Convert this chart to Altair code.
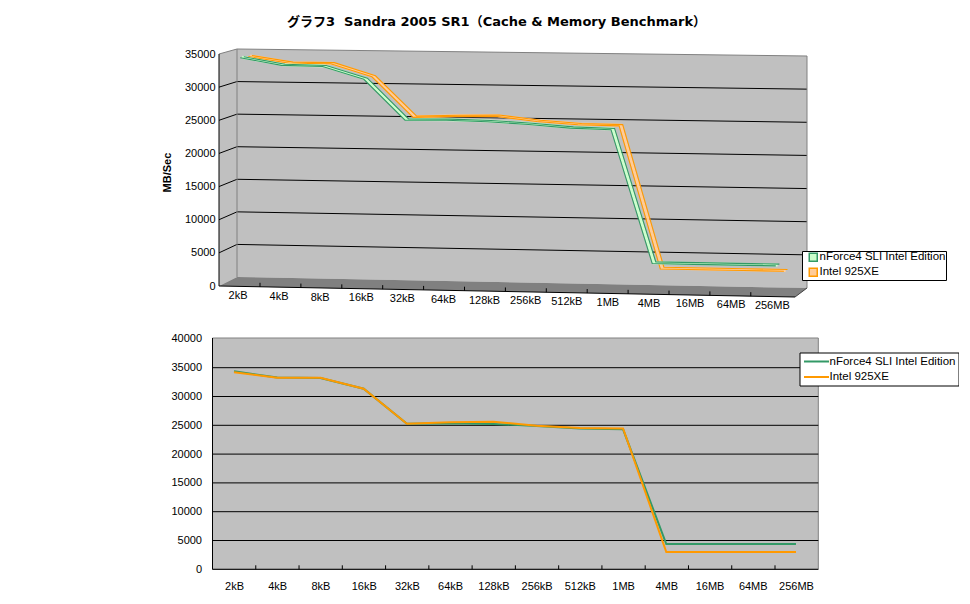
import altair as alt
import pandas as pd

categories = ["2kB","4kB","8kB","16kB","32kB","64kB","128kB","256kB","512kB","1MB","4MB","16MB","64MB","256MB"]
nforce = [34370,33300,33200,31350,25280,25350,25230,24900,24450,24300,4390,4390,4390,4390]
intel = [34200,33260,33260,31350,25280,25520,25630,24930,24530,24450,3000,3000,3000,3000]
names = ["nForce4 SLI Intel Edition", "Intel 925XE"]
y_ticks_top = [0,5000,10000,15000,20000,25000,30000,35000]
y_ticks_bottom = [0,5000,10000,15000,20000,25000,30000,35000,40000]
title_text = "グラフ3\u00a0\u00a0Sandra 2005 SR1（Cache & Memory Benchmark）"

DARK = ["#339966", "#ff9900"]
LIGHT = ["#ccffcc", "#ffcc99"]
WALL, FLOOR, EDGE = "#c0c0c0", "#808080", "#808080"
FONT = "Liberation Sans"

W = 950
X0 = 8
TOP1, BOT1 = 36, 318      # top panel extents on page
TOP2, BOT2 = 326, 569.3   # bottom panel extents on page

K0 = 232 / 35000
def to_v(py):
    return (285 - py) / K0

def proj_x(i, d):
    return 237.5 + 41.2 * i + 18 * d

def proj_y(x, v, d):
    base = 285 - 9 * d + 0.0193 * (x - 219 - 18 * d)
    k = (228 + (x - 237) * 4 / 570 + (1 - d) * 4) / 35000
    return base - v * k

xs = alt.Scale(domain=[X0, X0 + W], nice=False, zero=False)
ys1 = alt.Scale(domain=[to_v(BOT1), to_v(TOP1)], nice=False, zero=False)
X1 = alt.X("x:Q", scale=xs, axis=None)
X2E = alt.X2("x2:Q")
axis_top = alt.Axis(values=y_ticks_top, offset=-(219 - X0), domain=False, grid=False,
                    ticks=False, labelFont=FONT, labelFontSize=11,
                    labelColor="black", format="d", labelPadding=4,
                    titleFont=FONT, titleFontSize=11, titleFontWeight="bold", titleColor="black",
                    titleX=-47, titleY=171 - TOP1)
Y1 = alt.Y("y:Q", scale=ys1, title="MB/Sec", axis=axis_top)


def frame(**cols):
    return pd.DataFrame(cols)

# ---------- top panel ----------
back_x = [237, 807]
wall_back = frame(x=back_x,
                  y=[to_v(proj_y(a, 35000, 1)) for a in back_x],
                  y2=[to_v(proj_y(a, 0, 1)) for a in back_x])
wall_left = frame(x=[219, 237], y=[to_v(53), to_v(48)], y2=[to_v(285), to_v(276)])
floor = frame(x=[219, 237, 795, 807],
              y=[to_v(285), to_v(276), to_v(286.8), to_v(287)],
              y2=[to_v(285), to_v(285.3), to_v(296), to_v(287)])


def area(df, color):
    return alt.Chart(df).mark_area(color=color, opacity=1, line=False, interpolate="linear").encode(
        x=X1, y=Y1, y2=alt.Y2("y2:Q"))

layers = [area(wall_left, WALL), area(wall_back, WALL), area(floor, FLOOR)]

grid_rows = []
for v in y_ticks_top[1:-1]:
    grid_rows += [dict(v=v, x=219, y=to_v(285 - v * K0)),
                  dict(v=v, x=237, y=to_v(proj_y(237, v, 1))),
                  dict(v=v, x=807, y=to_v(proj_y(807, v, 1)))]
layers.append(alt.Chart(pd.DataFrame(grid_rows)).mark_line(color="black", strokeWidth=1).encode(
    x=X1, y=Y1, detail="v:N"))

top_edge = frame(x=[219, 237, 807], y=[to_v(53), to_v(48), to_v(proj_y(807, 35000, 1))])
layers.append(alt.Chart(top_edge).mark_line(color=EDGE, strokeWidth=1).encode(x=X1, y=Y1))
edges = frame(x=[237, 807], y=[to_v(48), to_v(proj_y(807, 35000, 1))], y2=[to_v(276), to_v(287)])
layers.append(alt.Chart(edges).mark_rule(color=EDGE, strokeWidth=1).encode(x=X1, y=Y1, y2=alt.Y2("y2:Q")))

front = frame(x=[219, 795], y=[to_v(285), to_v(296)])
layers.append(alt.Chart(front).mark_line(color="black", strokeWidth=1).encode(x=X1, y=Y1))
notch = frame(x=[795, 807], y=[to_v(296), to_v(287)])
layers.append(alt.Chart(notch).mark_line(color="#404040", strokeWidth=1).encode(x=X1, y=Y1))

tick_x = [260 + 40.9 * i for i in range(13)]
ticks = frame(x=tick_x,
              y=[to_v(285 + 0.0191 * (a - 219)) for a in tick_x],
              y2=[to_v(285 + 0.0191 * (a - 219) - 4) for a in tick_x])
layers.append(alt.Chart(ticks).mark_rule(color="black", strokeWidth=1).encode(x=X1, y=Y1, y2=alt.Y2("y2:Q")))

# ribbons, rear series first
for series, values, d, dark, light in [(names[1], intel, 0.7, DARK[1], LIGHT[1]),
                                       (names[0], nforce, 0.25, DARK[0], LIGHT[0])]:
    def ribbon(dd):
        xx = [proj_x(i, dd) for i in range(len(values))]
        return frame(x=xx, y=[to_v(proj_y(a, v, dd)) for a, v in zip(xx, values)], series=series)
    layers.append(alt.Chart(ribbon(d)).mark_line(color=light, strokeWidth=3).encode(x=X1, y=Y1))
    layers.append(alt.Chart(ribbon(d - 0.1)).mark_line(color=dark, strokeWidth=1.1).encode(x=X1, y=Y1))
    layers.append(alt.Chart(ribbon(d + 0.1)).mark_line(color=dark, strokeWidth=1.1).encode(x=X1, y=Y1))

labels_top = frame(x=[238 + 41.1 * i for i in range(14)],
                   y=[to_v(295 + 0.77 * i) for i in range(14)],
                   t=categories)
layers.append(alt.Chart(labels_top).mark_text(font=FONT, fontSize=11, color="black", baseline="middle").encode(
    x=X1, y=Y1, text="t:N"))

# y axis line
axis_src = frame(x=[219, 219], y=[0, 35000])
layers.append(alt.Chart(axis_src).mark_line(color="black", strokeWidth=1).encode(x=X1, y=Y1))

legend_top = alt.Legend(title=None, orient="none", legendX=802 - X0, legendY=250 - TOP1,
                        fillColor="white", strokeColor="black", padding=0.5,
                        labelFont=FONT, labelFontSize=11.5, labelColor="black",
                        symbolType="square", symbolSize=64, symbolStrokeWidth=1.5, symbolOffset=5,
                        symbolOpacity=1, labelOffset=0.5, rowPadding=0, labelLimit=300)
legend_src = frame(x=[proj_x(0, 0.25)] * 2, y=[to_v(proj_y(242, nforce[0], 0.25))] * 2, series=names)
layers.append(alt.Chart(legend_src).mark_square(size=0, filled=True, opacity=1).encode(
    x=X1, y=Y1,
    fill=alt.Fill("series:N", scale=alt.Scale(domain=names, range=LIGHT), legend=legend_top),
    stroke=alt.Stroke("series:N", scale=alt.Scale(domain=names, range=DARK), legend=legend_top)))

top = alt.layer(*layers).properties(
    width=W, height=BOT1 - TOP1,
    title=alt.TitleParams(title_text, anchor="start", dx=287 - X0, font="DejaVu Sans, Noto Sans CJK JP",
                          fontSize=13, fontWeight="bold", color="black", offset=8))

# ---------- bottom panel ----------
PX = 0.00576
ys2 = alt.Scale(domain=[0, (BOT2 - TOP2) / PX], nice=False, zero=False)
LEFT, RIGHT, TOPY = 212.5, 818.3, 338
top_v = (BOT2 - TOPY) / PX

centers = [234 + 43.23 * i for i in range(14)]
label_expr = "[" + ",".join(f"'{c}'" for c in categories) + "][round((datum.value-234)/43.23)]"

XB = alt.X("x:Q", scale=xs, title=None,
           axis=alt.Axis(values=centers, labelExpr=label_expr, ticks=False, domain=False, grid=False,
                         labelFont=FONT, labelFontSize=11, labelColor="black",
                         labelPadding=11, labelFlush=False, labelOverlap=False))
YB = alt.Y("y:Q", scale=ys2, title=None,
           axis=alt.Axis(values=y_ticks_bottom, offset=-(LEFT - X0), domain=False, grid=False,
                         ticks=False, labelFont=FONT, labelFontSize=11,
                         labelColor="black", format="d", labelPadding=11))

bg = frame(x=[LEFT], x2=[RIGHT], y=[0], y2=[top_v])
b_layers = [alt.Chart(bg).mark_rect(fill=WALL, stroke=EDGE, strokeWidth=1).encode(
    x=XB, x2=X2E, y=YB, y2=alt.Y2("y2:Q"))]

grid2 = frame(x=[LEFT] * 7, x2=[RIGHT] * 7, y=y_ticks_bottom[1:-1])
b_layers.append(alt.Chart(grid2).mark_rule(color="black", strokeWidth=1).encode(x=XB, x2=X2E, y=YB))

base = frame(x=[LEFT], x2=[RIGHT], y=[0])
b_layers.append(alt.Chart(base).mark_rule(color="black", strokeWidth=1).encode(x=XB, x2=X2E, y=YB))

tick_b = [LEFT + 43.27 * i for i in range(1, 14)]
b_ticks = frame(x=tick_b, y=[0] * 13, y2=[4 / PX] * 13)
b_layers.append(alt.Chart(b_ticks).mark_rule(color="black", strokeWidth=1).encode(x=XB, y=YB, y2=alt.Y2("y2:Q")))

left_axis = frame(x=[LEFT, LEFT], y=[0, top_v])
b_layers.append(alt.Chart(left_axis).mark_line(color="black", strokeWidth=1).encode(x=XB, y=YB))

lines = pd.concat([frame(x=centers, y=nforce, series=names[0]),
                   frame(x=centers, y=intel, series=names[1])])
b_layers.append(alt.Chart(lines).mark_line(strokeWidth=2).encode(
    x=XB, y=YB,
    color=alt.Color("series:N", scale=alt.Scale(domain=names, range=DARK),
                    legend=alt.Legend(title=None, orient="none", legendX=799.5 - X0, legendY=352.5 - TOP2,
                                      fillColor="white", strokeColor="black", padding=3,
                                      labelFont=FONT, labelFontSize=11.5, labelColor="black",
                                      symbolType="M-2.5,0H2.5", symbolSize=100, symbolStrokeWidth=2,
                                      symbolOffset=8, labelOffset=7, rowPadding=3.5, labelLimit=300))))

bottom = alt.layer(*b_layers).properties(width=W, height=BOT2 - TOP2)

chart = alt.vconcat(top, bottom, spacing=TOP2 - BOT1 - 1).resolve_scale(
    color="independent", fill="independent", stroke="independent"
).properties(
    padding={"left": 0, "right": 0, "top": 8, "bottom": 0}, background="white"
).configure_view(stroke=None)

chart.save("out.html", embed_options={"renderer": "svg", "actions": False})
